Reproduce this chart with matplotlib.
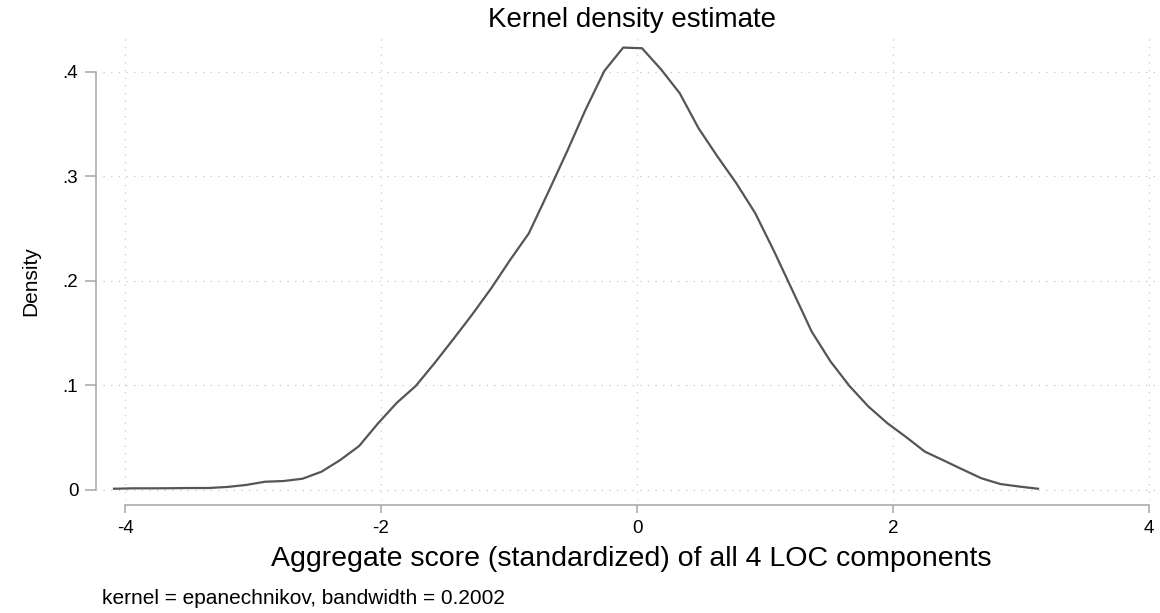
import matplotlib
matplotlib.use("Agg")
import matplotlib.pyplot as plt

# Evaluation grid (aggregate score) and estimated density
score = [-4.086, -3.939, -3.791, -3.644, -3.497, -3.349, -3.202, -3.055, -2.907, -2.760,
         -2.613, -2.465, -2.318, -2.171, -2.023, -1.876, -1.729, -1.581, -1.434, -1.287,
         -1.139, -0.992, -0.845, -0.697, -0.550, -0.403, -0.255, -0.108, 0.039, 0.187,
         0.334, 0.481, 0.629, 0.776, 0.923, 1.071, 1.218, 1.365, 1.513, 1.660,
         1.807, 1.955, 2.102, 2.249, 2.397, 2.544, 2.691, 2.839, 2.986, 3.133]
density = [0.0012, 0.0016, 0.0016, 0.0017, 0.0019, 0.0019, 0.0029, 0.0048, 0.0079, 0.0086,
           0.0108, 0.0175, 0.0287, 0.0421, 0.0638, 0.0835, 0.0995, 0.1215, 0.1445, 0.1680,
           0.1930, 0.2200, 0.2456, 0.2840, 0.3230, 0.3636, 0.4010, 0.4233, 0.4227, 0.4026,
           0.3796, 0.3461, 0.3190, 0.2935, 0.2650, 0.2284, 0.1900, 0.1515, 0.1228, 0.0995,
           0.0800, 0.0640, 0.0507, 0.0367, 0.0282, 0.0196, 0.0112, 0.0057, 0.0033, 0.0012]

x_ticks = [-4, -2, 0, 2, 4]
x_ticklabels = ["-4", "-2", "0", "2", "4"]
y_ticks = [0, 0.1, 0.2, 0.3, 0.4]
y_ticklabels = ["0", ".1", ".2", ".3", ".4"]

title = "Kernel density estimate"
xlabel = "Aggregate score (standardized) of all 4 LOC components"
ylabel = "Density"
note = "kernel = epanechnikov, bandwidth = 0.2002"

plt.rcParams['font.family'] = ['Liberation Sans', 'DejaVu Sans']

W, H = 1160, 613
fig = plt.figure(figsize=(W / 100, H / 100), dpi=100)
fig.patch.set_facecolor("white")

L, R, T, B = 103, 1160, 36, 500
ax = fig.add_axes([L / W, 1 - B / H, (R - L) / W, (B - T) / H])

ax.plot(score, density, color="#555555", linewidth=1.6, solid_joinstyle="miter")

ax.set_xlim(-4.172, 4.086)
ax.set_ylim(-0.00957, 0.4344)

ax.set_xticks(x_ticks)
ax.set_xticklabels(x_ticklabels)
ax.set_yticks(y_ticks)
ax.set_yticklabels(y_ticklabels)

ax.grid(True, linestyle=(0, (1, 5.9)), color="#bdbdbd", linewidth=0.8)
ax.set_axisbelow(True)

for s in ["top", "right"]:
    ax.spines[s].set_visible(False)
spine_col = "#a6a6a6"
ax.spines["left"].set_position(("outward", 4.8))
ax.spines["bottom"].set_position(("outward", 3.6))
ax.spines["left"].set_bounds(0, 0.4)
ax.spines["bottom"].set_bounds(-4, 4)
for s in ["left", "bottom"]:
    ax.spines[s].set_color(spine_col)
    ax.spines[s].set_linewidth(1.1)

ax.tick_params(axis="y", length=8, width=1.1, color=spine_col, pad=5, labelsize=13.5)
ax.tick_params(axis="x", length=6, width=1.1, color=spine_col, pad=5, labelsize=13.5)

ax.set_xlabel(xlabel, fontsize=20.5, va="baseline")
ax.xaxis.set_label_coords(0.5, (B - 566) / (B - T))
ax.set_ylabel(ylabel, fontsize=15, va="center")
ax.yaxis.set_label_coords((31 - L) / (R - L), (B - 281) / (B - T))

fig.text(632 / W, 1 - 27 / H, title, ha="center", va="baseline", fontsize=20)
fig.text(102 / W, 1 - 604 / H, note, ha="left", va="baseline", fontsize=15)

fig.savefig("out.png", dpi=100, facecolor="white")
